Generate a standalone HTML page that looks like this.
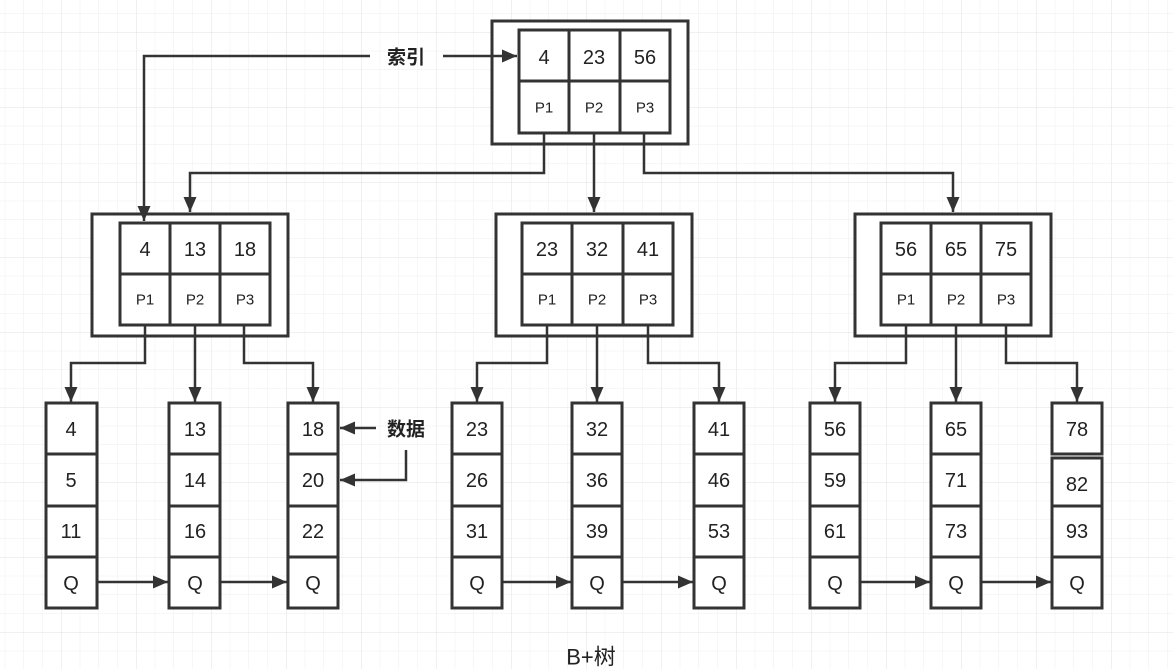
<!DOCTYPE html>
<html><head><meta charset="utf-8"><style>
html,body{margin:0;padding:0;background:#fff;}
svg{display:block;}
text{font-family:"Liberation Sans","Noto Sans CJK SC",sans-serif;fill:#222;text-anchor:middle;dominant-baseline:central;}
.n{font-size:20px;}
.p{font-size:15px;}
.b{font-size:19px;font-weight:bold;}
</style></head><body>
<svg width="1173" height="669" viewBox="0 0 1173 669" xmlns="http://www.w3.org/2000/svg">
<defs>
<pattern id="g" x="4.75" y="13.25" width="18.75" height="18.75" patternUnits="userSpaceOnUse">
<path d="M0 0V18.75M0 0H18.75" stroke="#eeeeee" stroke-width="1" fill="none"/>
</pattern>
<pattern id="G" x="61" y="32" width="75" height="75" patternUnits="userSpaceOnUse">
<path d="M0 0V75M0 0H75" stroke="#e2e2e2" stroke-width="1" fill="none"/>
</pattern>
<marker id="A" viewBox="0 0 15 13" markerWidth="15" markerHeight="13" refX="15" refY="6.5" orient="auto" markerUnits="userSpaceOnUse">
<path d="M0 0L15 6.5L0 13Z" fill="#333"/>
</marker>
</defs>
<rect width="1173" height="669" fill="url(#g)"/>
<rect width="1173" height="669" fill="url(#G)"/>

<g fill="none" stroke="#333" stroke-width="3">
<rect x="492" y="21" width="196" height="123" fill="#fff"/>
<rect x="519" y="30" width="151" height="103" fill="#fff"/>
<path d="M569 30V133M620 30V133M519 81H670"/>
<rect x="92" y="214" width="196" height="122" fill="#fff"/>
<rect x="120" y="223" width="150" height="102" fill="#fff"/>
<path d="M170 223V325M220 223V325M120 274H270"/>
<rect x="496" y="214" width="196" height="122" fill="#fff"/>
<rect x="522" y="223" width="151" height="102" fill="#fff"/>
<path d="M572 223V325M623 223V325M522 274H673"/>
<rect x="855" y="214" width="196" height="122" fill="#fff"/>
<rect x="881" y="223" width="150" height="102" fill="#fff"/>
<path d="M931 223V325M981 223V325M881 274H1031"/>
<g fill="#fff">
<rect x="46" y="403" width="51" height="205"/>
<rect x="169" y="403" width="51" height="205"/>
<rect x="288" y="403" width="50" height="205"/>
<rect x="452" y="403" width="50" height="205"/>
<rect x="572" y="403" width="50" height="205"/>
<rect x="694" y="403" width="50" height="205"/>
<rect x="810" y="403" width="50" height="205"/>
<rect x="931" y="403" width="50" height="205"/>
<rect x="1052" y="403" width="50" height="51"/>
<rect x="1052" y="458" width="50" height="150"/>
</g>
<path d="M46 454H97M46 506H97M46 557H97 M169 454H220M169 506H220M169 557H220 M288 454H338M288 506H338M288 557H338 M452 454H502M452 506H502M452 557H502 M572 454H622M572 506H622M572 557H622 M694 454H744M694 506H744M694 557H744 M810 454H860M810 506H860M810 557H860 M931 454H981M931 506H981M931 557H981 M1052 506H1102M1052 557H1102"/>
</g>

<g fill="none" stroke="#333" stroke-width="2.5">
<path d="M544 133V173H190V212" marker-end="url(#A)"/>
<path d="M594 133V212" marker-end="url(#A)"/>
<path d="M644 133V173H953V212" marker-end="url(#A)"/>
<path d="M370 56H144V221" marker-end="url(#A)"/>
<path d="M443 56H517" marker-end="url(#A)"/>
<path d="M145 325V363H71V402" marker-end="url(#A)"/>
<path d="M195 325V402" marker-end="url(#A)"/>
<path d="M244 325V363H313V402" marker-end="url(#A)"/>
<path d="M547 325V363H477V402" marker-end="url(#A)"/>
<path d="M597 325V402" marker-end="url(#A)"/>
<path d="M648 325V363H719V402" marker-end="url(#A)"/>
<path d="M906 325V363H835V402" marker-end="url(#A)"/>
<path d="M956 325V402" marker-end="url(#A)"/>
<path d="M1006 325V363H1077V402" marker-end="url(#A)"/>
<path d="M97 582H168" marker-end="url(#A)"/>
<path d="M220 582H287" marker-end="url(#A)"/>
<path d="M502 582H571" marker-end="url(#A)"/>
<path d="M622 582H693" marker-end="url(#A)"/>
<path d="M860 582H930" marker-end="url(#A)"/>
<path d="M981 582H1051" marker-end="url(#A)"/>
<path d="M376 428H340" marker-end="url(#A)"/>
<path d="M406 450V480H340" marker-end="url(#A)"/>
</g>

<text class="b" x="406" y="58">索引</text>
<text class="b" x="406" y="430">数据</text>
<text x="591" y="657" style="font-size:22px">B+树</text>

<text class="n" x="544" y="58">4</text><text class="n" x="594" y="58">23</text><text class="n" x="645" y="58">56</text>
<text class="p" x="544" y="108">P1</text><text class="p" x="594" y="108">P2</text><text class="p" x="645" y="108">P3</text>

<text class="n" x="145" y="250">4</text><text class="n" x="195" y="250">13</text><text class="n" x="245" y="250">18</text>
<text class="p" x="145" y="300">P1</text><text class="p" x="195" y="300">P2</text><text class="p" x="245" y="300">P3</text>
<text class="n" x="547" y="250">23</text><text class="n" x="597" y="250">32</text><text class="n" x="648" y="250">41</text>
<text class="p" x="547" y="300">P1</text><text class="p" x="597" y="300">P2</text><text class="p" x="648" y="300">P3</text>
<text class="n" x="906" y="250">56</text><text class="n" x="956" y="250">65</text><text class="n" x="1006" y="250">75</text>
<text class="p" x="906" y="300">P1</text><text class="p" x="956" y="300">P2</text><text class="p" x="1006" y="300">P3</text>

<text class="n" x="71" y="430">4</text><text class="n" x="71" y="481">5</text><text class="n" x="71" y="532">11</text><text class="n" x="71" y="584">Q</text>
<text class="n" x="195" y="430">13</text><text class="n" x="195" y="481">14</text><text class="n" x="195" y="532">16</text><text class="n" x="195" y="584">Q</text>
<text class="n" x="313" y="430">18</text><text class="n" x="313" y="481">20</text><text class="n" x="313" y="532">22</text><text class="n" x="313" y="584">Q</text>
<text class="n" x="477" y="430">23</text><text class="n" x="477" y="481">26</text><text class="n" x="477" y="532">31</text><text class="n" x="477" y="584">Q</text>
<text class="n" x="597" y="430">32</text><text class="n" x="597" y="481">36</text><text class="n" x="597" y="532">39</text><text class="n" x="597" y="584">Q</text>
<text class="n" x="719" y="430">41</text><text class="n" x="719" y="481">46</text><text class="n" x="719" y="532">53</text><text class="n" x="719" y="584">Q</text>
<text class="n" x="835" y="430">56</text><text class="n" x="835" y="481">59</text><text class="n" x="835" y="532">61</text><text class="n" x="835" y="584">Q</text>
<text class="n" x="956" y="430">65</text><text class="n" x="956" y="481">71</text><text class="n" x="956" y="532">73</text><text class="n" x="956" y="584">Q</text>
<text class="n" x="1077" y="430">78</text><text class="n" x="1077" y="485">82</text><text class="n" x="1077" y="532">93</text><text class="n" x="1077" y="584">Q</text>
</svg>
</body></html>
